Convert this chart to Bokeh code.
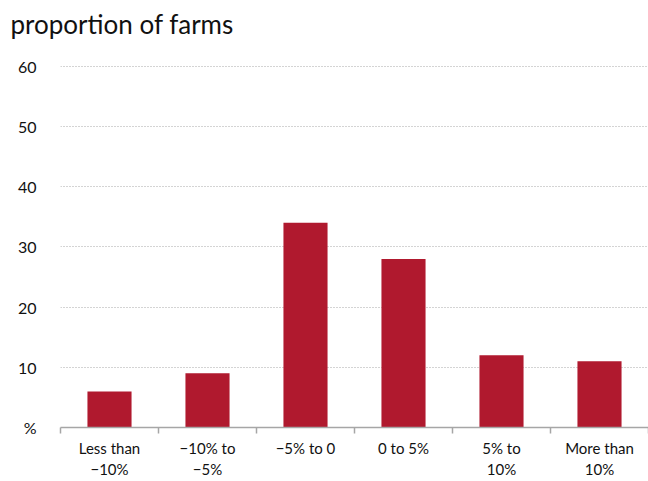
from bokeh.plotting import figure
from bokeh.models import FixedTicker, Range1d, ColumnDataSource, Title
from bokeh.embed import file_html
from bokeh.resources import INLINE

# Change in farm output: share of farms in each band (%)
categories = ["Less than\n\u221210%", "\u221210% to\n\u22125%", "\u22125% to 0",
              "0 to 5%", "5% to\n10%", "More than\n10%"]
shares = [6, 9, 34, 28, 12, 11]
y_ticks = [0, 10, 20, 30, 40, 50, 60]

FONT = "Lato"
BAR_COLOR = "#B0192E"

n = len(categories)
centres = [i + 0.5 for i in range(n)]
src = ColumnDataSource(dict(x=centres, top=shares))

p = figure(width=648, height=481, output_backend="svg", toolbar_location=None,
           x_range=Range1d(0, n), y_range=Range1d(0, 60.3),
           min_border_left=60, min_border_right=0, min_border_top=64,
           min_border_bottom=50)

p.title.text = "proportion of farms"
p.title.text_font = FONT
p.title.text_font_size = "26px"
p.title.text_font_style = "normal"
p.title.text_color = "#111111"
p.title.offset = -50
p.title.standoff = 0

# empty spacer between the heading and the plot area
spacer = Title(text=" ", text_font_size="16px", standoff=6)
p.add_layout(spacer, "above")

p.vbar(x="x", top="top", width=0.45, bottom=0, source=src,
       fill_color=BAR_COLOR, line_color=None)

p.outline_line_color = None
p.background_fill_color = "white"
p.border_fill_color = "white"

# x axis: labels under each bar, tick marks between categories
xa = p.xaxis[0]
xa.ticker = FixedTicker(ticks=centres, minor_ticks=list(range(n + 1)))
xa.major_label_overrides = {c: lab for c, lab in zip(centres, categories)}
xa.major_tick_line_color = None
xa.minor_tick_in = 0
xa.minor_tick_out = 6
xa.minor_tick_line_color = "#A6A6A6"
xa.axis_line_color = "#A6A6A6"
xa.axis_line_width = 1.5
xa.minor_tick_line_width = 1.5
xa.major_label_text_font = FONT
xa.major_label_text_font_size = "15px"
xa.major_label_text_color = "#111111"
xa.major_label_standoff = 5

# y axis: labels only, "%" in place of zero
ya = p.yaxis[0]
ya.ticker = FixedTicker(ticks=y_ticks)
ya.major_label_overrides = {0: "%"}
ya.axis_line_color = None
ya.major_tick_line_color = None
ya.minor_tick_line_color = None
ya.major_label_text_font = FONT
ya.major_label_text_font_size = "16px"
ya.major_label_text_color = "#111111"
ya.major_label_standoff = 18

p.xgrid.grid_line_color = None
p.ygrid.ticker = FixedTicker(ticks=y_ticks[1:])
p.ygrid.grid_line_color = "#A8A8A8"
p.ygrid.grid_line_dash = "1 2"
p.ygrid.grid_line_width = 1

open("out.html", "w").write(file_html(p, INLINE))
